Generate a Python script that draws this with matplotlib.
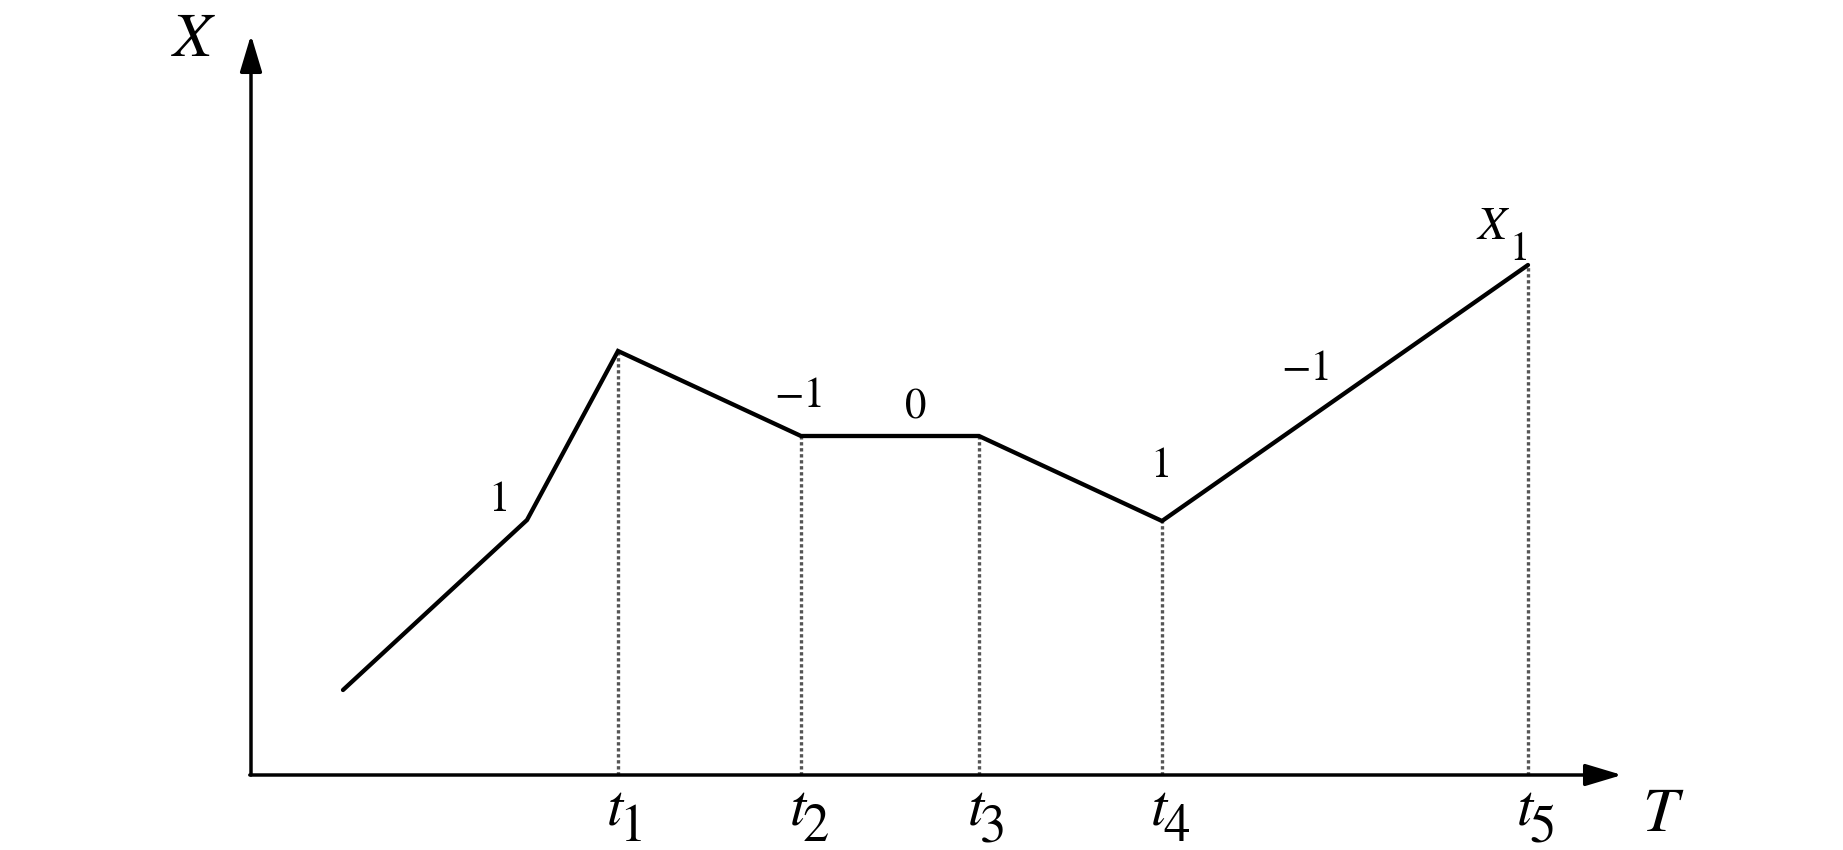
import matplotlib
matplotlib.use("Agg")
import matplotlib.pyplot as plt

# path of X over time (units: 1 = 100 px of the original)
t_path = [0.92, 2.76, 3.67, 5.50, 7.28, 9.11, 12.77]
x_path = [0.85, 2.55, 4.24, 3.39, 3.39, 2.54, 5.10]

# the marked instants t1..t5 (indices into the path)
t_marks = [2, 3, 4, 5, 6]
t_names = ["1", "2", "3", "4", "5"]

# slope labels: text, t, x
seg_text = ["1", "\u22121", "0", "1", "\u22121"]
seg_t = [2.48, 5.49, 6.65, 9.10, 10.56]
seg_x = [2.74, 3.78, 3.67, 3.08, 4.05]

serif = "STIXGeneral"

fig = plt.figure(figsize=(18.43, 8.5), dpi=100)
ax = fig.add_axes([0, 0, 1, 1])
ax.set_xlim(-2.51, 15.92)
ax.set_ylim(-0.75, 7.75)
ax.axis("off")

arrow = dict(arrowstyle="-|>,head_length=1.5,head_width=0.45", lw=2.5,
             color="black", shrinkA=0, shrinkB=0, mutation_scale=15)
ax.annotate("", xy=(0, 7.40), xytext=(0, 0), arrowprops=arrow)
ax.annotate("", xy=(13.71, 0), xytext=(-0.012, 0), arrowprops=arrow)

# dotted drop lines
for i in t_marks:
    ax.plot([t_path[i], t_path[i]], [0, x_path[i]], color="#555555",
            lw=2.4, ls=(0, (1, 0.8)), zorder=1)

ax.plot(t_path, x_path, color="black", lw=3.1, solid_joinstyle="miter",
        solid_capstyle="round", zorder=3)

# t labels
for i, nm in zip(t_marks, t_names):
    ax.text(t_path[i] - 0.035, -0.50, "t", family=serif, style="italic",
            fontsize=42, ha="center", va="baseline")
    ax.text(t_path[i] + 0.01, -0.66, nm, family=serif, fontsize=38,
            ha="left", va="baseline")

for s, tt, xx in zip(seg_text, seg_t, seg_x):
    ax.text(tt, xx, s, family=serif, fontsize=31, ha="center", va="center")

ax.text(-0.59, 7.34, "X", family=serif, style="italic", fontsize=46,
        ha="center", va="center")
ax.text(14.09, -0.41, "T", family=serif, style="italic", fontsize=46,
        ha="center", va="center")
ax.text(12.41, 5.47, "X", family=serif, style="italic", fontsize=34,
        ha="center", va="center")
ax.text(12.58, 5.15, "1", family=serif, fontsize=29, ha="left", va="baseline")

fig.savefig("out.png", dpi=100)
